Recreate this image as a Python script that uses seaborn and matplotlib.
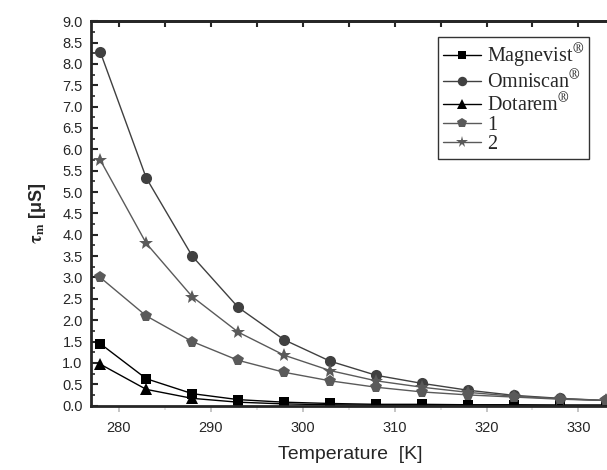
import numpy as np
import pandas as pd
import matplotlib
matplotlib.use("Agg")
import matplotlib.pyplot as plt
from matplotlib.ticker import MultipleLocator
import seaborn as sns

temperature = [278, 283, 288, 293, 298, 303, 308, 313, 318, 323, 328, 333]
magnevist = [1.45, 0.63, 0.28, 0.14, 0.08, 0.05, 0.03, 0.03, 0.02, 0.02, 0.01, 0.01]
omniscan = [8.28, 5.33, 3.50, 2.30, 1.54, 1.04, 0.71, 0.52, 0.36, 0.24, 0.17, 0.12]
dotarem = [0.97, 0.38, 0.17, 0.08, 0.04, 0.02, 0.01, 0.01, 0.01, 0.01, 0.01, 0.01]
complex1 = [3.00, 2.10, 1.50, 1.06, 0.78, 0.58, 0.43, 0.32, 0.25, 0.20, 0.15, 0.12]
complex2 = [5.75, 3.80, 2.55, 1.72, 1.18, 0.82, 0.58, 0.43, 0.31, 0.22, 0.16, 0.12]

labels = [r"Magnevist$^{\circledR}$", r"Omniscan$^{\circledR}$", r"Dotarem$^{\circledR}$", "1", "2"]
series = [magnevist, omniscan, dotarem, complex1, complex2]

rows = []
for lab, vals in zip(labels, series):
    for t, v in zip(temperature, vals):
        rows.append({"T": t, "tau": v, "agent": lab})
df = pd.DataFrame(rows)

sns.set_style("ticks")
plt.rcParams["font.family"] = ["Liberation Sans", "DejaVu Sans"]
plt.rcParams["mathtext.fontset"] = "stix"

palette = dict(zip(labels, ["#000000", "#404040", "#000000", "#5a5a5a", "#5a5a5a"]))
markers = dict(zip(labels, ["s", "o", "^", "p", "*"]))
sizes = {"s": 7, "o": 8, "^": 8, "p": 8.5, "*": 10}

fig = plt.figure(figsize=(6.07, 4.70), dpi=100)
ax = fig.add_axes([0.150, 0.137, 0.853, 0.818])

sns.lineplot(data=df, x="T", y="tau", hue="agent", style="agent",
             palette=palette, markers=markers, dashes=False, ax=ax,
             linewidth=1.0, markeredgewidth=0, legend=False)
for line, lab in zip(ax.lines, labels):
    line.set_markersize(sizes[markers[lab]])

ax.set_xlim(277.0, 333.3)
ax.set_ylim(0, 9.0)
ax.xaxis.set_major_locator(MultipleLocator(10))
ax.xaxis.set_minor_locator(MultipleLocator(5))
ax.yaxis.set_major_locator(MultipleLocator(0.5))
ax.yaxis.set_minor_locator(MultipleLocator(0.25))
ax.yaxis.set_major_formatter(matplotlib.ticker.FormatStrFormatter("%.1f"))

ax.tick_params(axis="y", which="major", direction="in", length=5, width=1.5,
               labelsize=10.5, pad=6)
ax.tick_params(axis="y", which="minor", direction="in", length=3, width=1.2)
ax.tick_params(axis="x", which="major", direction="out", length=4, width=1.2,
               color="#bbbbbb", labelsize=10.5, pad=7)
ax.tick_params(axis="x", which="minor", direction="out", length=3, width=1.2,
               color="#dddddd")
for side in ["left", "bottom", "top"]:
    ax.spines[side].set_linewidth(2.0)
ax.spines["right"].set_visible(False)

# inward ticks on the top spine
sec = ax.secondary_xaxis("top")
sec.xaxis.set_major_locator(MultipleLocator(10))
sec.xaxis.set_minor_locator(MultipleLocator(5))
sec.tick_params(which="both", direction="in", length=4, width=1.5, labeltop=False)
sec.spines["top"].set_linewidth(2.0)

ax.set_xlabel("Temperature  [K]", fontsize=14, labelpad=8)
ax.set_ylabel(r"$\mathbf{\tau_m}$ [μS]", fontsize=13, fontweight="bold", labelpad=10)

handles = [matplotlib.lines.Line2D([], [], color=palette[l], marker=markers[l],
                                   markersize=sizes[markers[l]] * 0.85, linewidth=1.0,
                                   markeredgewidth=0) for l in labels]
leg = ax.legend(handles, labels, loc="upper right", bbox_to_anchor=(0.982, 0.985),
                prop={"family": "Liberation Serif", "size": 14.5}, frameon=True,
                fancybox=False, edgecolor="black", handlelength=1.9,
                labelspacing=0.0, borderpad=0.25, handletextpad=0.3)
leg.get_frame().set_linewidth(1.0)

fig.savefig("out.png", dpi=100)
